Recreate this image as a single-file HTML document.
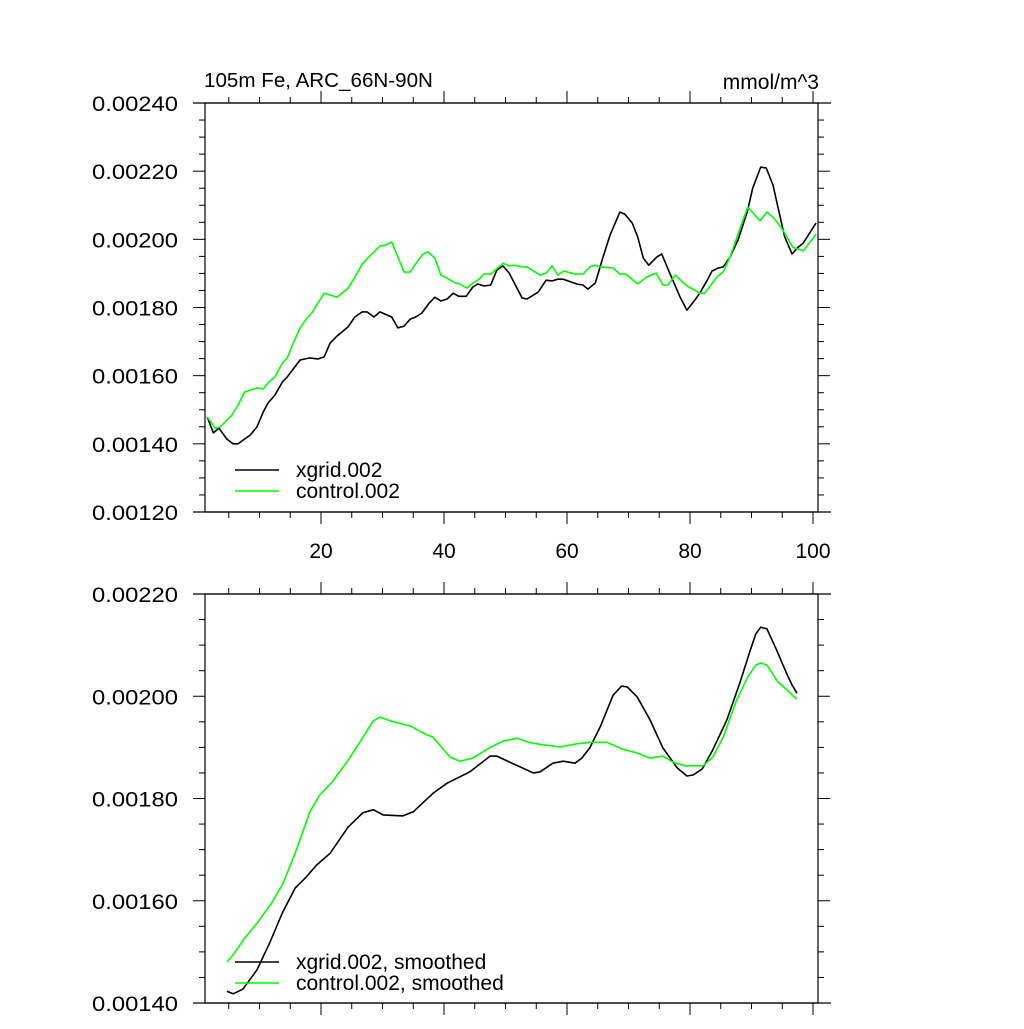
<!DOCTYPE html>
<html><head><meta charset="utf-8"><style>
html,body{margin:0;padding:0;background:#fff;}
svg text{font-family:"Liberation Sans",sans-serif;fill:#000;}
</style></head><body>
<svg id="chart" width="1024" height="1024" viewBox="0 0 1024 1024" xmlns="http://www.w3.org/2000/svg">
<text x="204" y="87" font-size="20.6">105m Fe, ARC_66N-90N</text>
<text x="819" y="89" font-size="21" text-anchor="end">mmol/m^3</text>
<g id="top"></g>
<g id="bot"></g>
</svg>
<script>
// values in units of 1e-5 mmol/m^3
const topBlackX=[1.5,2.5,3.4,4.7,5.7,6.5,8.5,9.6,10.6,11.4,12.5,13.7,14.5,16.6,18.2,19.5,20.5,21.5,22.6,23.6,24.4,25.5,26.7,27.5,28.6,29.6,31.5,32.5,33.5,34.5,35.4,36.4,37.6,38.5,39.5,40.5,41.5,42.4,43.6,44.7,45.5,46.5,47.6,48.6,49.6,50.6,52.7,53.5,55.3,56.6,57.6,58.5,59.4,61.6,62.6,63.4,64.6,65.7,67,68.6,69.4,70.6,71.5,72.4,73.3,74.6,75.4,76.7,78.4,79.5,80.8,81.6,82.8,83.6,84.6,85.4,86.5,87.8,89.3,90.2,91.5,92.4,93.5,94.3,95.4,96.6,97.6,98.4,100.5];
const topBlackV=[147.9,143.2,144.6,141.4,140,140,142.6,145,149.3,152,154.3,158.1,159.6,164.6,165.2,164.9,165.5,169.6,171.6,173.1,174.3,177.2,178.7,178.7,177.2,178.7,177.2,174,174.5,176.6,177.2,178.4,181.3,183,181.9,182.5,184.2,183.3,183.3,186,186.9,186.3,186.6,191,192.2,190.1,182.8,182.5,184.5,188,187.8,188.3,188.3,186.9,186.6,185.4,187.2,193.9,201.2,208,207.4,204.8,200.7,194.5,192.4,194.8,195.7,190.1,183,179.2,182.2,184.2,188,190.7,191.6,191.9,194.8,199.8,208,215,221.2,220.9,215.9,209.5,200.7,195.7,197.7,198.9,204.8];
const topGreenX=[1.5,2.8,3.6,5.5,6.5,7.6,9.6,10.6,11.5,12.5,13.7,14.5,15.5,16.6,17.6,18.5,19.5,20.5,22.6,24.4,25.5,26.7,27.6,29.6,30.4,31.5,32.5,33.5,34.5,35.6,36.6,37.4,38.5,39.5,40.5,41.8,42.6,43.7,44.7,45.7,46.5,47.6,49.6,50.6,51.5,52.7,53.5,55.6,56.6,57.6,58.5,59.5,61.3,62.6,63.7,64.6,65.4,67.5,68.6,69.6,71.5,73,74.5,75.6,76.4,77.6,79.5,80.5,81.6,82.4,84.4,85.4,86.5,88.1,89.4,91.4,92.5,93.5,95.1,96.7,98.4,100.5];
const topGreenV=[147.9,144.6,144.9,148.4,151.4,155.2,156.4,156.1,158.1,159.6,163.7,165.2,169.6,174,176.6,178.4,181.3,184.2,183,185.7,188.9,192.7,194.5,198,198.3,199.2,194.8,190.4,190.4,193.3,195.7,196.3,194.5,189.5,188.6,187.2,186.9,185.7,187.2,188.3,189.8,189.8,193,192.2,192.4,191.9,191.9,189.5,190.1,192.2,189.5,190.7,189.8,189.8,191.9,192.4,191.9,191.6,189.8,189.8,186.9,189,190.1,186.6,186.6,189.5,186.3,185.4,184.2,184.2,189,190.4,194.8,203,209.5,205.4,208,206.5,202.7,197.7,196.6,201.5];
const botBlackX=[4.7,5.7,7.3,9.6,11.7,13.7,15.8,17.4,19.3,21.5,24.4,26.8,28.5,30.1,33.3,35,38.2,40.5,44.2,47.5,48.6,50.7,54.5,55.6,57.7,59.4,61.3,62.4,63.7,65.4,67.5,68.9,69.8,71.4,73.5,75.6,77.9,79.5,80.5,82,83.7,86,88.1,89.8,90.7,91.5,92.5,94.1,95.8,96.6,97.4];
const botBlackV=[142.3,141.8,142.7,146.5,151.9,157.6,162.5,164.4,167,169.3,174.4,177.2,177.8,176.8,176.6,177.4,181,183,185.2,188.3,188.3,187.1,185,185.2,186.9,187.3,186.9,187.9,189.9,194,200.2,202,201.8,199.9,195.4,189.9,186,184.4,184.6,185.8,189.5,195.4,202.6,209,212.2,213.5,213.2,209,204.2,202.2,200.6];
const botGreenX=[4.7,5.7,7.6,9.6,12,13.7,15.8,18.2,19.8,21.8,24.4,26.3,28.5,29.6,31.7,34.5,36.6,38.2,41,42.6,44.7,47.5,49.6,51.9,53.7,56.1,58.9,61.6,63.7,66.5,68.9,71.4,73.5,75.6,77.2,79.2,82.1,83.7,85.4,87.6,89.4,90.7,91.5,92.5,94.3,96,96.8,97.4];
const botGreenV=[148,149.4,152.7,155.6,159.6,163.1,169.3,177.4,180.7,183.2,187.5,191,195.2,195.9,195,194.2,192.8,192,188.1,187.3,187.9,190,191.2,191.8,191,190.5,190.1,190.7,191,191,189.7,188.9,187.9,188.3,187.1,186.4,186.4,188.1,192,199.3,203.8,206.1,206.5,206.1,202.8,201,200,199.5];
const topYTicks=["0.00120","0.00140","0.00160","0.00180","0.00200","0.00220","0.00240"];
const botYTicks=["0.00140","0.00160","0.00180","0.00200","0.00220"];
const xTickLabels=["20","40","60","80","100"];

const NS="http://www.w3.org/2000/svg";
function mk(parent,tag,attrs){const e=document.createElementNS(NS,tag);for(const k in attrs)e.setAttribute(k,attrs[k]);parent.appendChild(e);return e;}
const L=205,R=818;
const xs=x=>198+6.15*x;

function panel(g,top,bot,ymin,ymax,yLabels,showXLabels,series,legend,legendY){
  const ys=v=>bot-(v-ymin)/(ymax-ymin)*(bot-top);
  const f=mk(g,'rect',{x:L,y:top,width:R-L,height:bot-top,fill:'none',stroke:'#000','stroke-width':1.2});
  
  
  for(let x=5;x<=100;x+=5){
    const major=x%20===0;const len=major?12:6;const px=xs(x);
    if(px<L||px>R)continue;
    const t1=mk(g,'line',{x1:px,x2:px,y1:bot,y2:bot+len,stroke:'#000','stroke-width':1});
    
    
    const t2=mk(g,'line',{x1:px,x2:px,y1:top,y2:top-len,stroke:'#000','stroke-width':1});
    
    
  }
  mk(g,'line',{x1:193,x2:831,y1:bot,y2:bot,stroke:'#000','stroke-width':1.2});
  mk(g,'line',{x1:193,x2:831,y1:top,y2:top,stroke:'#000','stroke-width':1.2});
  if(showXLabels){
    xTickLabels.forEach(s=>{
      const t=mk(g,'text',{x:xs(+s),y:bot+46,'font-size':21,'text-anchor':'middle'});
      t.textContent=s;
      
      
    });
  }
  const step=(ymax-ymin)/(yLabels.length-1);
  for(let i=0;i<=(yLabels.length-1)*4;i++){
    const v=ymin+i*step/4;const py=ys(v);const len=i%4===0?12:6;
    const a=mk(g,'line',{x1:L,x2:L-len,y1:py,y2:py,stroke:'#000','stroke-width':1});
    
    
    const b=mk(g,'line',{x1:R,x2:R+len,y1:py,y2:py,stroke:'#000','stroke-width':1});
    
    
  }
  yLabels.forEach((s,i)=>{
    const t=mk(g,'text',{x:92,y:ys(ymin+i*step)+8,'font-size':21,textLength:86,lengthAdjust:'spacingAndGlyphs'});
    t.textContent=s;
    
    
  });
  series.forEach((s,k)=>{
    const d=s.x.map((x,i)=>(i?'L':'M')+xs(x).toFixed(1)+','+ys(s.v[i]).toFixed(1)).join('');
    const p=mk(g,'path',{d:d,fill:'none',stroke:s.c,'stroke-width':1.6,'stroke-linejoin':'round'});
    
    
    const ly=legendY+k*21;
    const ll=mk(g,'line',{x1:235,x2:279,y1:ly,y2:ly,stroke:s.c,'stroke-width':1.6});
    
    
    const lt=mk(g,'text',{x:296,y:ly+7,'font-size':21});
    lt.textContent=legend[k];
    
    
  });
}
panel(document.getElementById('top'),103,512,120,240,topYTicks,true,
  [{x:topBlackX,v:topBlackV,c:'#000',name:'xgrid-line'},{x:topGreenX,v:topGreenV,c:'#00ff00',name:'control-line'}],
  ['xgrid.002','control.002'],470);
panel(document.getElementById('bot'),594,1003,140,220,botYTicks,false,
  [{x:botBlackX,v:botBlackV,c:'#000',name:'xgrid-smoothed-line'},{x:botGreenX,v:botGreenV,c:'#00ff00',name:'control-smoothed-line'}],
  ['xgrid.002, smoothed','control.002, smoothed'],962);
</script>
</body></html>
